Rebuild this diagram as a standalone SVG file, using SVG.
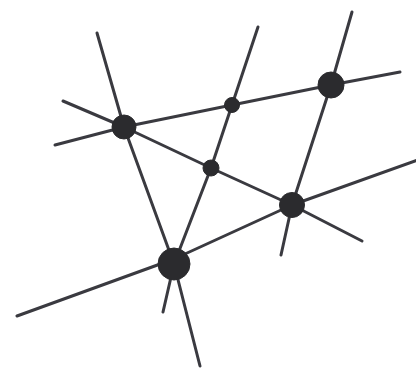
<svg xmlns="http://www.w3.org/2000/svg" width="416" height="368" viewBox="0 0 416 368">
<style>
.ln{fill:none;stroke:#3a3a40;stroke-width:3;stroke-linecap:round;stroke-linejoin:round}
.nd{fill:#2b2b2e;stroke:#2b2b2e;stroke-width:1}
</style>
<rect width="416" height="368" fill="#ffffff"/>
<g id="connectors">
<polyline class="ln" points="97,33 124,127 174,264 200,366"/>
<polyline class="ln" points="258,27 232,105 211,168 174,264 163,312"/>
<polyline class="ln" points="352,12 331,85 292,205 281,255"/>
<polyline class="ln" points="55,145 124,127 232,105 331,85 400,72"/>
<polyline class="ln" points="63,101 124,127 211,168 292,205 362,241"/>
<polyline class="ln" points="17,316 174,259 292,205 418,160"/>
</g>
<g id="nodeA"><circle class="nd" cx="124" cy="127" r="12"/></g>
<g id="nodeB"><circle class="nd" cx="232" cy="105" r="7.5"/></g>
<g id="nodeC"><circle class="nd" cx="331" cy="85" r="13"/></g>
<g id="nodeD"><circle class="nd" cx="211" cy="168" r="8"/></g>
<g id="nodeE"><circle class="nd" cx="292" cy="205" r="12.5"/></g>
<g id="nodeF"><circle class="nd" cx="174" cy="264" r="16"/></g>
</svg>
